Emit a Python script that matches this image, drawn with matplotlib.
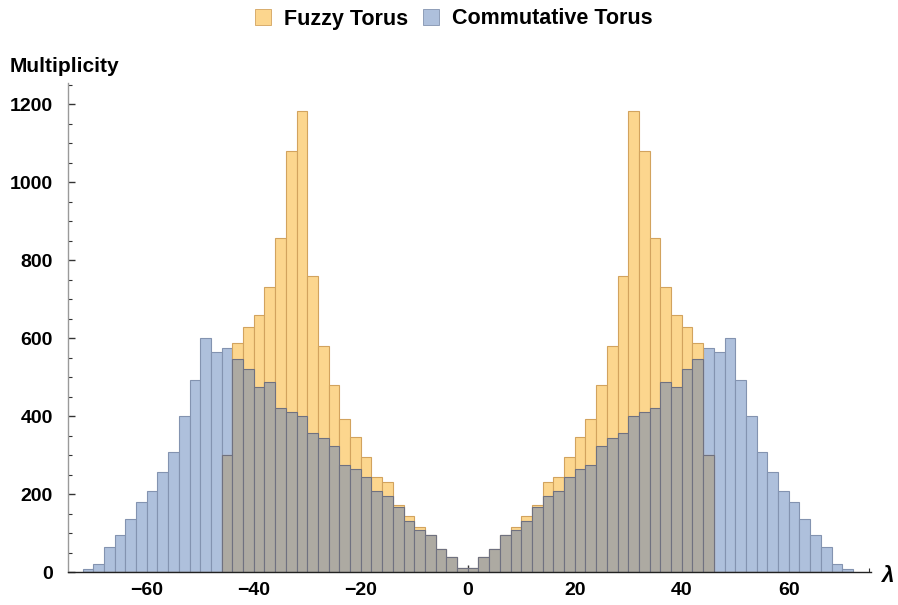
import matplotlib
matplotlib.use("Agg")
import matplotlib.pyplot as plt
from matplotlib.patches import Patch
from matplotlib.ticker import MultipleLocator
import numpy as np

plt.rcParams['font.family'] = ['Liberation Sans', 'DejaVu Sans']
plt.rcParams['font.weight'] = 'bold'

# bin left edges (width 2)
bin_edges = list(range(-72, 72, 2))
bin_width = 2

fuzzy = [0, 0, 0, 0, 0, 0, 0, 0, 0, 0, 0, 0, 0,
         300, 588, 628, 660, 732, 856, 1080, 1184, 760, 580, 480, 392, 348,
         296, 244, 232, 172, 144, 116, 96, 60, 40, 12,
         12, 40, 60, 96, 116, 144, 172, 232, 244, 296, 348, 392, 480, 580,
         760, 1184, 1080, 856, 732, 660, 628, 588, 300,
         0, 0, 0, 0, 0, 0, 0, 0, 0, 0, 0, 0, 0]

commutative = [8, 20, 64, 96, 136, 180, 208, 256, 308, 400, 492, 600,
               564, 576, 548, 520, 476, 488, 420, 412, 400, 356, 344, 324,
               276, 264, 244, 208, 196, 168, 132, 108, 96, 60, 40, 12,
               12, 40, 60, 96, 108, 132, 168, 196, 208, 244, 264, 276,
               324, 344, 356, 400, 412, 420, 488, 476, 520, 548, 576, 564,
               600, 492, 400, 308, 256, 208, 180, 136, 96, 64, 20, 8]

labels = ["Fuzzy Torus", "Commutative Torus"]
x_ticks = [-60, -40, -20, 0, 20, 40, 60]
y_ticks = [0, 200, 400, 600, 800, 1000, 1200]

orange_fill = "#FCD68E"
orange_edge = "#D2A35E"
blue_fill = "#AEC0DC"
blue_edge = "#8393B0"
gray_fill = "#ADAAA2"
gray_edge = "#6F7180"

fig = plt.figure(figsize=(8.98, 6.05), dpi=100)
ax = fig.add_axes([68/898, 1 - 572.3/605, (871-68)/898, (572.3-83)/605])

overlap = np.minimum(np.array(fuzzy), np.array(commutative))

ax.bar(bin_edges, commutative, width=bin_width, align='edge', color=blue_fill,
       edgecolor=blue_edge, linewidth=0.8, zorder=2)
ax.bar(bin_edges, fuzzy, width=bin_width, align='edge', color=orange_fill,
       edgecolor=orange_edge, linewidth=0.8, zorder=3)
ax.bar(bin_edges, overlap, width=bin_width, align='edge', color=gray_fill,
       edgecolor=gray_edge, linewidth=0.8, zorder=4)

x0 = -467.7/5.35 + 68/5.35
x1 = (871 - 467.7)/5.35
ax.set_xlim(x0, x1)
ax.set_ylim(0, (572.3-83)*2.564)

ax.set_xticks(x_ticks)
ax.set_xticklabels([("\u2212%d" % -t) if t < 0 else str(t) for t in x_ticks])
ax.set_yticks(y_ticks)
ax.xaxis.set_minor_locator(MultipleLocator(5))
ax.yaxis.set_minor_locator(MultipleLocator(50))

ax.tick_params(axis='both', which='major', direction='in', labelsize=14,
               color='#333333', width=1.0)
ax.tick_params(axis='x', which='major', length=5, pad=7)
ax.tick_params(axis='y', which='major', length=5, pad=11)
ax.tick_params(axis='both', which='minor', direction='in', length=3,
               color='#333333', width=0.8)
for lab in ax.get_xticklabels() + ax.get_yticklabels():
    lab.set_fontweight('bold')

for s in ['top', 'right']:
    ax.spines[s].set_visible(False)
ax.spines['left'].set_color('#9A9A9A')
ax.spines['left'].set_linewidth(1.0)
ax.spines['bottom'].set_color('#222222')
ax.spines['bottom'].set_linewidth(1.0)
ax.spines['left'].set_zorder(6)
ax.spines['bottom'].set_zorder(6)

fig.text(10/898, 1 - 66/605, "Multiplicity", fontsize=15, fontweight='bold',
         ha='left', va='center')
fig.text(882/898, 1 - 576/605, "\u03bb", fontsize=16, fontweight='bold',
         fontstyle='italic', ha='left', va='center')

handles = [Patch(facecolor=orange_fill, edgecolor=orange_edge, linewidth=0.6),
           Patch(facecolor=blue_fill, edgecolor=blue_edge, linewidth=0.6)]
leg = fig.legend(handles, labels, loc='center', bbox_to_anchor=(0.505, 1 - 19/605),
                 ncol=2, frameon=False, prop={'weight': 'bold', 'size': 15.5},
                 handlelength=0.75, handleheight=0.75, handletextpad=0.6,
                 columnspacing=0.7)

fig.savefig("out.png", dpi=100)
